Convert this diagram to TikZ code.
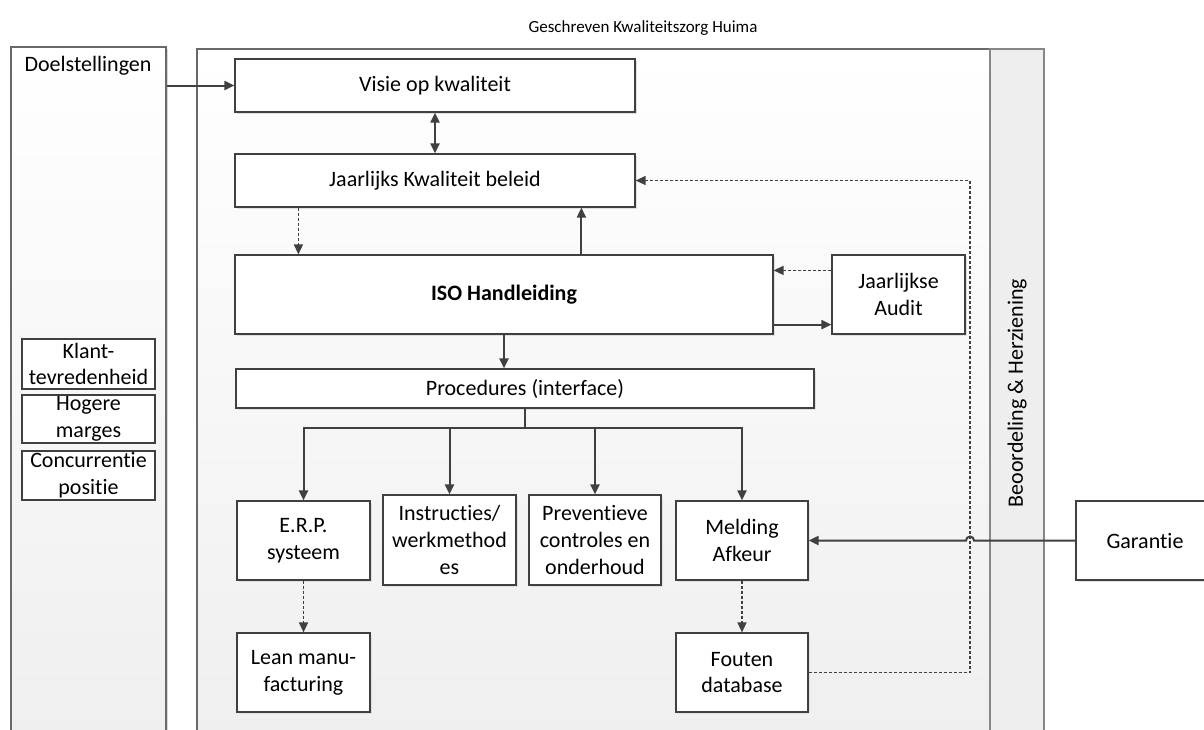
\documentclass[tikz,border=0pt]{standalone}
\usepackage{fontspec}
\setmainfont{Carlito}[RawFeature={-liga;-clig;-dlig;-calt}]
\usepackage{xcolor}
\definecolor{hmline}{RGB}{64,64,64}
\definecolor{hmframe}{RGB}{105,105,105}
\definecolor{hmstrip}{RGB}{238,238,238}
\definecolor{hmshade}{RGB}{239,239,239}
\usetikzlibrary{arrows.meta,positioning,calc,shadows}

\begin{document}
\begin{tikzpicture}[
  x=0.5pt,y=-0.5pt,
  every node/.style={font=\fontsize{11}{13.4}\selectfont,align=center,inner sep=0pt},
  panel/.style={draw=hmframe,line width=0.8pt,top color=white,bottom color=hmshade,
    drop shadow={shadow xshift=1.2pt,shadow yshift=-1.2pt,fill=black!15,opacity=1}},
  strip/.style={draw=hmframe!80,line width=1pt,fill=hmstrip},
  box/.style={draw=hmline,line width=0.6pt,fill=white,minimum width=66.5pt,minimum height=39.5pt,
    drop shadow={shadow xshift=1.2pt,shadow yshift=-1.2pt,fill=black!12,opacity=1}},
  goal/.style={draw=hmline,line width=0.6pt,fill=white,minimum width=66.5pt},
  arr/.style={draw=hmline,line width=1pt,-{Triangle[length=5pt,width=4.5pt]}},
  dsharr/.style={draw=hmline,line width=0.7pt,dash pattern=on 1.5pt off 1pt,-{Triangle[length=5pt,width=4.5pt]}}
]
\clip (0,0) rectangle (1204,729);

% kaders
\node[panel,minimum width=77.5pt,minimum height=346.5pt] (doel) at (88.5,393.5) {};
\node[panel,minimum width=396.5pt,minimum height=345.5pt] (kader) at (593.5,394.5) {};
\node[strip,minimum width=27pt,minimum height=345.5pt] (herz) at (1017,394.5) {};
\node[rotate=90] (herztxt) at (1017,393) {Beoordeling \& Herziening};

\node (titel) at (643,28) {\fontsize{8.5}{10}\selectfont Geschreven Kwaliteitszorg Huima};
\node (doeltxt) at (88,66) {Doelstellingen};

% doelen
\node[goal,minimum height=25pt] (klant) at (88.5,364) {Klant-\\tevredenheid};
\node[goal,minimum height=24pt] (marge) at (88.5,419) {Hogere\\marges};
\node[goal,minimum height=24.5pt] (conc) at (88.5,475.5) {Concurrentie\\positie};

% hoofdlijn
\node[box,minimum width=200pt,minimum height=26.5pt] (visie) at (435,85.5) {Visie op kwaliteit};
\node[box,minimum width=200pt,minimum height=26.5pt] (beleid) at (435,180.5) {Jaarlijks Kwaliteit beleid};
\node[box,minimum width=269pt] (iso) at (504,294.5) {\bfseries ISO Handleiding};
\node[box] (audit) at (898.5,294.5) {Jaarlijkse\\Audit};
\node[box,minimum width=289pt,minimum height=19.5pt] (proc) at (525,388.5) {Procedures (interface)};

% onderste rij
\node[box] (erp) at (303.5,540.5) {E.R.P.\\systeem};
\node[box,minimum height=45pt] (instr) at (449.5,540) {Instructies/\\werkmethod\\es};
\node[box,minimum width=66pt,minimum height=45pt] (prev) at (595,540) {Preventieve\\controles en\\onderhoud};
\node[box,minimum width=66pt] (meld) at (742,540.5) {Melding\\Afkeur};
\node[box] (lean) at (303.5,672.5) {Lean manu-\\facturing};
\node[box,minimum width=66pt] (fout) at (742,672.5) {Fouten\\database};
\node[box,minimum width=69pt] (gar) at (1145,540.5) {Garantie};

% verbindingen
\draw[arr] (doel.east |- visie.west) -- (visie.west);
\draw[arr,{Triangle[length=5pt,width=4.5pt]}-{Triangle[length=5pt,width=4.5pt]}] (visie.south) -- (beleid.north);
\draw[dsharr] ([xshift=32pt]beleid.south west) -- ([xshift=32pt]iso.north west);
\draw[arr] ([xshift=173.5pt]iso.north west) -- ([xshift=173.5pt]beleid.south west);
\draw[dsharr] ([yshift=-8pt]audit.north west) -- ([yshift=-8pt]iso.north east);
\draw[arr] ([yshift=5pt]iso.south east) -- ([yshift=5pt]audit.south west);
\draw[arr] (iso.south) -- (iso.south |- proc.north);

\coordinate (split) at (525,428);
\draw[draw=hmline,line width=1pt] (proc.south) -- (split);
\foreach \n in {erp,instr,prev,meld}
  \draw[arr] (split) -| (\n.north);

\draw[dsharr] (erp.south) -- (lean.north);
\draw[dsharr] (meld.south) -- (fout.north);

\coordinate (terug) at (970,672.5);
\draw[dsharr] (fout.east) -- (terug) |- (beleid.east);

\coordinate (sprong) at (970,540.5);
\draw[arr] (gar.west) -- ($(sprong)+(4,0)$) arc[start angle=0,end angle=180,radius=2pt] -- (meld.east);
\end{tikzpicture}
\end{document}
